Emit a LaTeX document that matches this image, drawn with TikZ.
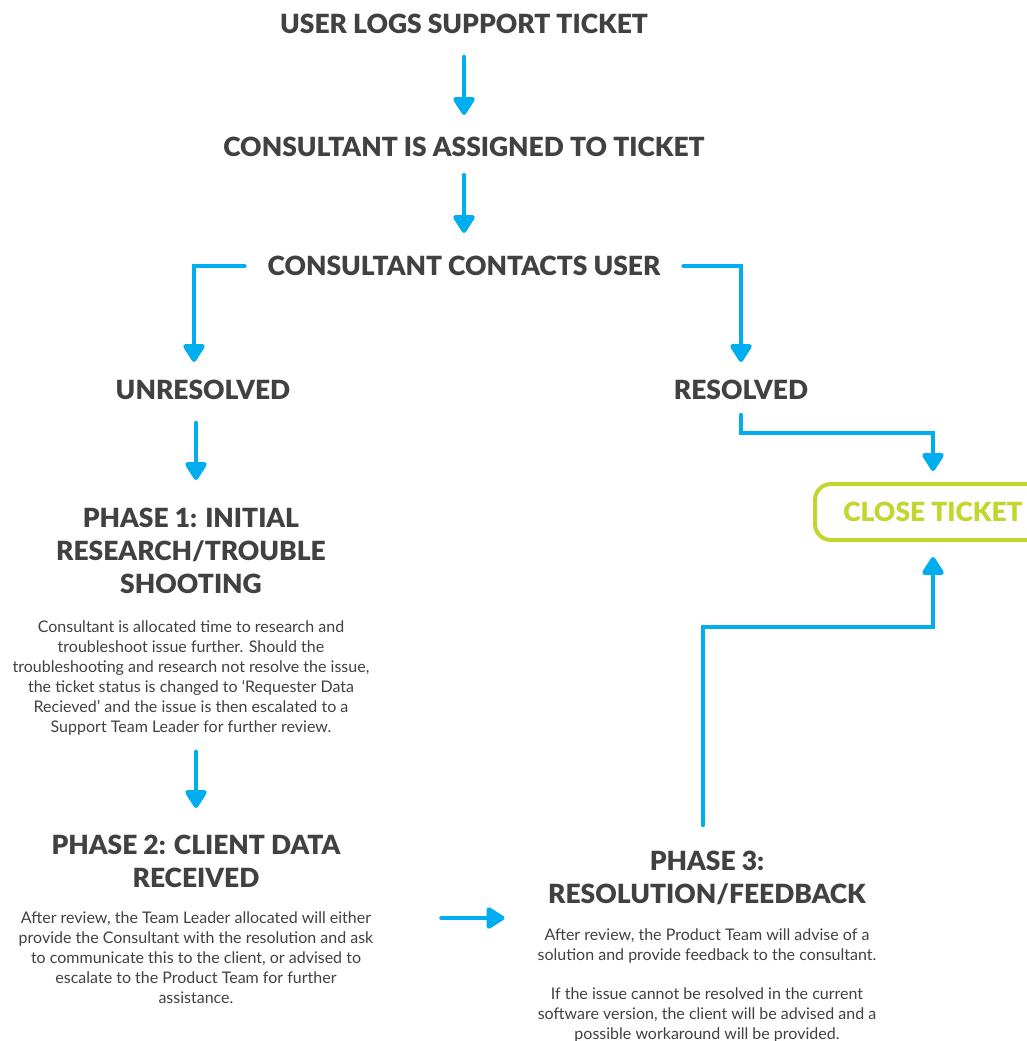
\documentclass[tikz,border=0pt]{standalone}
\usepackage{fontspec}
\setmainfont{Lato}[BoldFont={Lato Black}]
\usetikzlibrary{arrows.meta}
\definecolor{flowblue}{HTML}{00AEEF}
\definecolor{textgrey}{HTML}{414042}
\definecolor{closegreen}{HTML}{C3D52F}

\begin{document}
\begin{tikzpicture}[x=1pt, y=1pt,
    heading/.style={font=\bfseries\fontsize{26.4}{33}\selectfont, text=textgrey, inner sep=0pt, align=center},
    body/.style={font=\fontsize{16}{20}\selectfont, text=textgrey, inner sep=0pt, align=center},
    flow/.style={draw=flowblue, line width=4.5pt, line cap=round, -{Triangle[width=24pt,length=20pt,round]}},
    closebox/.style={draw=closegreen, line width=4pt, rounded corners=16pt, text=closegreen,
      font=\bfseries\fontsize{26.4}{30}\selectfont, minimum width=236pt, minimum height=56pt}]
  \useasboundingbox (0,0) rectangle (1027,-1041);

  \node[heading] (user)    at (464,-24)  {USER LOGS SUPPORT TICKET};
  \node[heading] (assign)  at (464,-147) {CONSULTANT IS ASSIGNED TO TICKET};
  \node[heading] (contact) at (464,-266) {CONSULTANT CONTACTS USER};
  \node[heading] (unres)   at (203,-390) {UNRESOLVED};
  \node[heading] (res)     at (741,-390) {RESOLVED};
  \node[closebox] (close)  at (933,-512) {CLOSE TICKET};

  \node[heading, anchor=north] (p1head) at (191,-508) {PHASE 1: INITIAL\\RESEARCH/TROUBLE\\SHOOTING};
  \node[body, anchor=north] (p1body) at (191,-621) {Consultant is allocated time to research and\\
    troubleshoot issue further. Should the\\
    troubleshooting and research not resolve the issue,\\
    the ticket status is changed to ‘Requester Data\\
    Recieved’ and the issue is then escalated to a\\
    Support Team Leader for further review.};

  \node[heading, anchor=north] (p2head) at (196,-835) {PHASE 2: CLIENT DATA\\RECEIVED};
  \node[body, anchor=north] (p2body) at (196,-912) {After review, the Team Leader allocated will either\\
    provide the Consultant with the resolution and ask\\
    to communicate this to the client, or advised to\\
    escalate to the Product Team for further\\
    assistance.};

  \node[heading, anchor=north] (p3head) at (707,-851) {PHASE 3:\\RESOLUTION/FEEDBACK};
  \node[body, anchor=north] (p3body) at (707,-929) {After review, the Product Team will advise of a\\
    solution and provide feedback to the consultant.\\[19pt]
    If the issue cannot be resolved in the current\\
    software version, the client will be advised and a\\
    possible workaround will be provided.};

  % main line
  \draw[flow, shorten <=23pt, shorten >=22pt] (user) -- (assign);
  \draw[flow, shorten <=18pt, shorten >=23pt] (assign) -- (contact);
  \draw[flow, shorten >=18pt] ([xshift=-23pt]contact.west) -| ([xshift=-9pt]unres.north);
  \draw[flow, shorten >=18pt] ([xshift=23pt]contact.east) -| (res.north);

  % resolved branch
  \draw[flow, shorten <=15pt, shorten >=11pt] (res.south) -- ([yshift=-33pt]res.south) -| (close.north);

  % unresolved branch
  \draw[flow, shorten <=23pt, shorten >=28pt] ([xshift=-7pt]unres.south) -- ([xshift=-7pt]unres.south |- p1head.north);
  \draw[flow, shorten <=16pt, shorten >=27pt] ([xshift=5pt]p1body.south) -- ([xshift=5pt]p1body.south |- p2head.north);
  \draw[flow, shorten >=33pt] ([xshift=68pt, yshift=-6pt]p2body.north east) -- ([yshift=-6pt]p2body.north east -| p3body.west);
  \draw[flow, shorten <=26pt, shorten >=15pt] ([xshift=-4pt]p3head.north) -- ([xshift=-4pt, yshift=224pt]p3head.north) -| (close.south);
\end{tikzpicture}
\end{document}
